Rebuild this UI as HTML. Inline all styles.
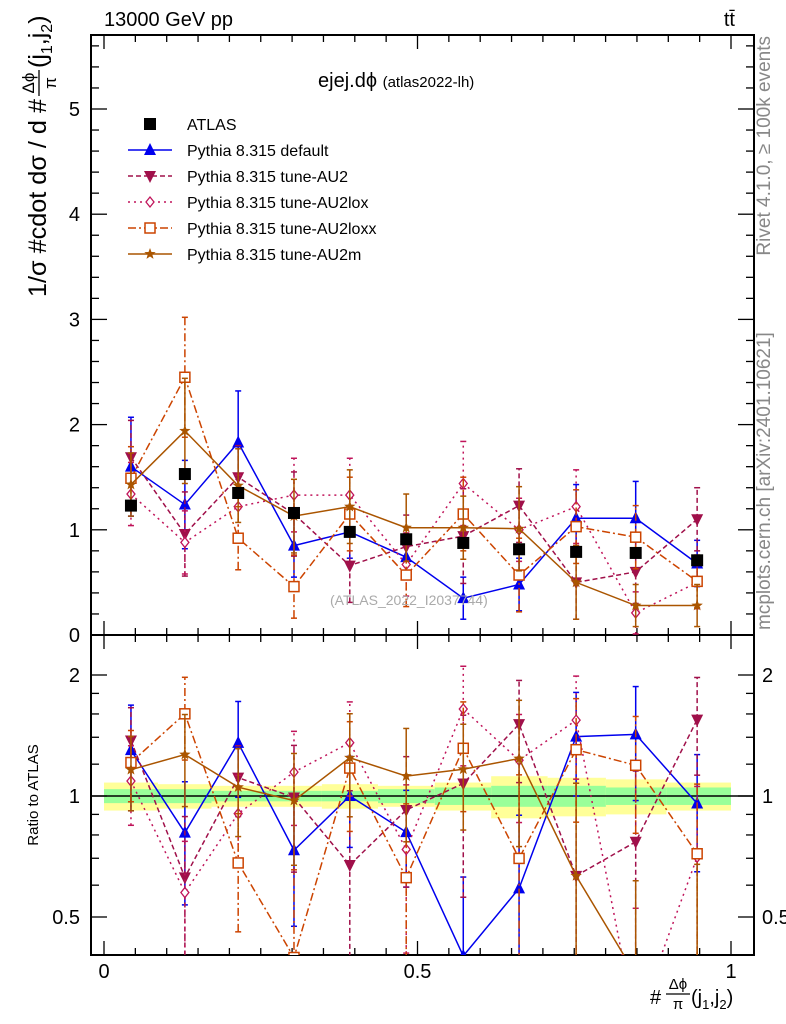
<!DOCTYPE html>
<html><head><meta charset="utf-8">
<style>
html,body{margin:0;padding:0;background:#fff;overflow:hidden;}
svg{display:block;font-family:"Liberation Sans",sans-serif;}
</style></head>
<body>
<svg id="chart" width="786" height="1024" viewBox="0 0 786 1024" xmlns="http://www.w3.org/2000/svg">
<g id="bands"></g>
<g id="axes"></g>
<g id="series"></g>
<text x="104" y="26" font-size="20">13000 GeV pp</text>
<text x="735" y="26" font-size="20" text-anchor="end">tt̄</text>
<text x="318" y="87" font-size="20">ejej.dϕ <tspan font-size="15">(atlas2022-lh)</tspan></text>
<text x="330" y="605" font-size="14" fill="#aaa">(ATLAS_2022_I2037744)</text>
<g transform="translate(46,297) rotate(-90)">
<text x="0" y="0" font-size="25" textLength="198" lengthAdjust="spacingAndGlyphs">1/σ #cdot dσ / d #</text>
<text x="214" y="-12" font-size="17" text-anchor="middle">Δϕ</text>
<line x1="201" x2="227" y1="-7" y2="-7" stroke="#000" stroke-width="1.3"/>
<text x="214" y="10" font-size="17" text-anchor="middle">π</text>
<text x="229" y="0" font-size="25">(j<tspan font-size="16" dy="6">1</tspan><tspan dy="-6">,j</tspan><tspan font-size="16" dy="6">2</tspan><tspan dy="-6">)</tspan></text>
</g>
<text transform="translate(38,795) rotate(-90)" font-size="15" text-anchor="middle">Ratio to ATLAS</text>
<g>
<text x="650" y="1004" font-size="20">#</text>
<text x="678" y="989" font-size="15" text-anchor="middle">Δϕ</text>
<line x1="666" x2="690" y1="994" y2="994" stroke="#000" stroke-width="1.2"/>
<text x="678" y="1009" font-size="15" text-anchor="middle">π</text>
<text x="691" y="1004" font-size="20">(j<tspan font-size="13" dy="5">1</tspan><tspan dy="-5">,j</tspan><tspan font-size="13" dy="5">2</tspan><tspan dy="-5">)</tspan></text>
</g>
<text transform="translate(770,36) rotate(-90)" font-size="19" fill="#888" text-anchor="end">Rivet 4.1.0, ≥ 100k events</text>
<text transform="translate(770,630) rotate(-90)" font-size="19" fill="#888" text-anchor="start">mcplots.cern.ch [arXiv:2401.10621]</text>
<g id="legend"></g>
</svg>
<script>
const xCenters=[0.043,0.129,0.214,0.303,0.392,0.482,0.573,0.662,0.753,0.848,0.946];
const atlasVals=[1.23,1.53,1.35,1.16,0.98,0.91,0.875,0.815,0.79,0.78,0.71];
const bandYellow=[0.08,0.07,0.06,0.06,0.07,0.06,0.08,0.12,0.11,0.10,0.08];
const bandGreen=[0.04,0.04,0.03,0.03,0.03,0.04,0.05,0.06,0.06,0.05,0.05];
const defVals=[1.60,1.24,1.83,0.85,0.98,0.74,0.35,0.48,1.11,1.11,0.68];
const defErr=[0.47,0.42,0.49,0.3,0.25,0.2,0.2,0.25,0.32,0.35,0.22];
const au2Vals=[1.69,0.96,1.50,1.15,0.66,0.84,0.94,1.23,0.50,0.60,1.10];
const au2Err=[0.35,0.4,0.3,0.4,0.35,0.3,0.45,0.35,0.35,0.3,0.3];
const loxVals=[1.34,0.88,1.22,1.33,1.33,0.67,1.44,1.00,1.22,0.21,0.50];
const loxErr=[0.3,0.3,0.3,0.35,0.35,0.3,0.4,0.3,0.35,0.2,0.25];
const loxxVals=[1.49,2.45,0.92,0.46,1.15,0.57,1.15,0.57,1.03,0.93,0.51];
const loxxErr=[0.3,0.57,0.3,0.3,0.35,0.3,0.35,0.35,0.35,0.3,0.25];
const au2mVals=[1.43,1.94,1.42,1.13,1.22,1.02,1.02,1.01,0.50,0.28,0.28];
const au2mErr=[0.3,0.5,0.35,0.35,0.35,0.32,0.3,0.4,0.35,0.2,0.2];
const legendLabels=["ATLAS","Pythia 8.315 default","Pythia 8.315 tune-AU2","Pythia 8.315 tune-AU2lox","Pythia 8.315 tune-AU2loxx","Pythia 8.315 tune-AU2m"];
const mainTicks=[0,1,2,3,4,5];
const ratioTicks=[0.5,1,2];
const xTicks=[0,0.5,1];

const NS="http://www.w3.org/2000/svg";
const L=91,R=754,T=35,MB=635,RB=955;
const X=v=>104+v*627;
const Ym=v=>635-v*105.2;
const Yr=v=>796-Math.log2(v)*121;
function mk(tag,attrs,parent){const e=document.createElementNS(NS,tag);for(const k in attrs)e.setAttribute(k,attrs[k]);parent.appendChild(e);return e;}
const axes=document.getElementById('axes'),bands=document.getElementById('bands'),ser=document.getElementById('series'),leg=document.getElementById('legend');

for(let i=0;i<xCenters.length;i++){
  const x0=i==0?X(0):X((xCenters[i-1]+xCenters[i])/2);
  const x1=i==xCenters.length-1?X(1):X((xCenters[i]+xCenters[i+1])/2);
  const y=mk('rect',{x:x0,y:Yr(1+bandYellow[i]),width:x1-x0,height:Yr(1-bandYellow[i])-Yr(1+bandYellow[i]),fill:'#ffff99'},bands);
  
  
  const g=mk('rect',{x:x0,y:Yr(1+bandGreen[i]),width:x1-x0,height:Yr(1-bandGreen[i])-Yr(1+bandGreen[i]),fill:'#99ff99'},bands);
  
  
}
mk('line',{x1:L,x2:R,y1:Yr(1),y2:Yr(1),stroke:'#000','stroke-width':1.5},axes);
mk('rect',{x:L,y:T,width:R-L,height:MB-T,fill:'none',stroke:'#000','stroke-width':2},axes);
mk('rect',{x:L,y:MB,width:R-L,height:RB-MB,fill:'none',stroke:'#000','stroke-width':2},axes);
for(let k=0;k<=20;k++){const v=k*0.05,x=X(v),maj=(k%10==0),len=maj?14:7;
  for(const [yb,dir] of [[MB,-1],[T,1],[RB,-1],[MB,1]]){mk('line',{x1:x,x2:x,y1:yb,y2:yb+dir*len,stroke:'#000','stroke-width':1.3},axes);}
}
xTicks.forEach(v=>{const t=mk('text',{x:X(v),y:978,'font-size':20,'text-anchor':'middle'},axes);t.textContent=String(v);
  
  });
for(let k=0;k<=28;k++){const v=k*0.2;const y=Ym(v);if(y<T)break;const maj=(k%5==0),len=maj?16:8;
  mk('line',{x1:L,x2:L+len,y1:y,y2:y,stroke:'#000','stroke-width':1.3},axes);
  mk('line',{x1:R,x2:R-len,y1:y,y2:y,stroke:'#000','stroke-width':1.3},axes);}
mainTicks.forEach(v=>{const t=mk('text',{x:80,y:Ym(v)+7,'font-size':20,'text-anchor':'end'},axes);t.textContent=String(v);
  
  });
[0.5,0.6,0.7,0.8,0.9,1,1.2,1.4,1.6,1.8,2].forEach(v=>{const y=Yr(v);const maj=[0.5,1,2].includes(v),len=maj?16:8;
  mk('line',{x1:L,x2:L+len,y1:y,y2:y,stroke:'#000','stroke-width':1.3},axes);
  mk('line',{x1:R,x2:R-len,y1:y,y2:y,stroke:'#000','stroke-width':1.3},axes);});
ratioTicks.forEach(v=>{for(const [x,a] of [[80,'end'],[762,'start']]){const t=mk('text',{x:x,y:Yr(v)+7,'font-size':20,'text-anchor':a},axes);t.textContent=String(v);
  
  }});

function marker(g,type,x,y,col){
  if(type=='sq')mk('rect',{x:x-6,y:y-6,width:12,height:12,fill:'#000'},g);
  else if(type=='up')mk('polygon',{points:`${x},${y-7} ${x-6},${y+5} ${x+6},${y+5}`,fill:col},g);
  else if(type=='down')mk('polygon',{points:`${x},${y+7} ${x-6},${y-5} ${x+6},${y-5}`,fill:col},g);
  else if(type=='dia')mk('polygon',{points:`${x},${y-5} ${x-4},${y} ${x},${y+5} ${x+4},${y}`,fill:'#fff',stroke:col,'stroke-width':1.3},g);
  else if(type=='osq')mk('rect',{x:x-5,y:y-5,width:10,height:10,fill:'#fff',stroke:col,'stroke-width':1.5},g);
  else if(type=='star'){let p=[];for(let i=0;i<10;i++){const r=i%2?2.5:6,a=-Math.PI/2+i*Math.PI/5;p.push((x+r*Math.cos(a))+','+(y+r*Math.sin(a)));}mk('polygon',{points:p.join(' '),fill:col},g);}
}
const series=[
 {name:'default',vals:defVals,err:defErr,col:'#0000ee',dash:'',m:'up'},
 {name:'au2',vals:au2Vals,err:au2Err,col:'#a0104a',dash:'5,3',m:'down'},
 {name:'au2lox',vals:loxVals,err:loxErr,col:'#c0145a',dash:'2,4',m:'dia'},
 {name:'au2loxx',vals:loxxVals,err:loxxErr,col:'#cc4400',dash:'8,3,2,3',m:'osq'},
 {name:'au2m',vals:au2mVals,err:au2mErr,col:'#aa5500',dash:'',m:'star'}
];
const clipM=mk('clipPath',{id:'cm'},ser);mk('rect',{x:L,y:T,width:R-L,height:MB-T},clipM);
const clipR=mk('clipPath',{id:'cr'},ser);mk('rect',{x:L,y:MB,width:R-L,height:RB-MB},clipR);
function drawSeries(s,Yf,ratio,clip){
  const g=mk('g',{'clip-path':`url(#${clip})`},ser);
  
  
  const pts=s.vals.map((v,i)=>{const vv=ratio?v/atlasVals[i]:v;return X(xCenters[i])+','+Yf(Math.max(vv,0.01));});
  mk('polyline',{points:pts.join(' '),fill:'none',stroke:s.col,'stroke-width':1.5,'stroke-dasharray':s.dash},g);
  s.vals.forEach((v,i)=>{const d=ratio?atlasVals[i]:1;const x=X(xCenters[i]);
    const lo=Math.max((v-s.err[i])/d,0.01),hi=(v+s.err[i])/d;
    mk('line',{x1:x,x2:x,y1:Yf(lo),y2:Yf(hi),stroke:s.col,'stroke-width':1.5,'stroke-dasharray':s.dash},g);
    mk('line',{x1:x-3,x2:x+3,y1:Yf(lo),y2:Yf(lo),stroke:s.col,'stroke-width':1.5},g);
    mk('line',{x1:x-3,x2:x+3,y1:Yf(hi),y2:Yf(hi),stroke:s.col,'stroke-width':1.5},g);
    marker(g,s.m,x,Yf(Math.max(v/d,0.01)),s.col);});
}
series.forEach(s=>{drawSeries(s,Ym,false,'cm');drawSeries(s,Yr,true,'cr');});
const ga=mk('g',{},ser);


atlasVals.forEach((v,i)=>marker(ga,'sq',X(xCenters[i]),Ym(v),'#000'));

const legTypes=[{m:'sq',col:'#000',dash:null},...series.map(s=>({m:s.m,col:s.col,dash:s.dash}))];
legendLabels.forEach((lab,i)=>{const y=124+i*26;const g=mk('g',{},leg);
  
  
  if(legTypes[i].dash!==null)mk('line',{x1:128,x2:172,y1:y,y2:y,stroke:legTypes[i].col,'stroke-width':1.5,'stroke-dasharray':legTypes[i].dash},g);
  marker(g,legTypes[i].m,150,y,legTypes[i].col);
  const t=mk('text',{x:187,y:y+6,'font-size':16},g);t.textContent=lab;});
</script>
</body></html>
